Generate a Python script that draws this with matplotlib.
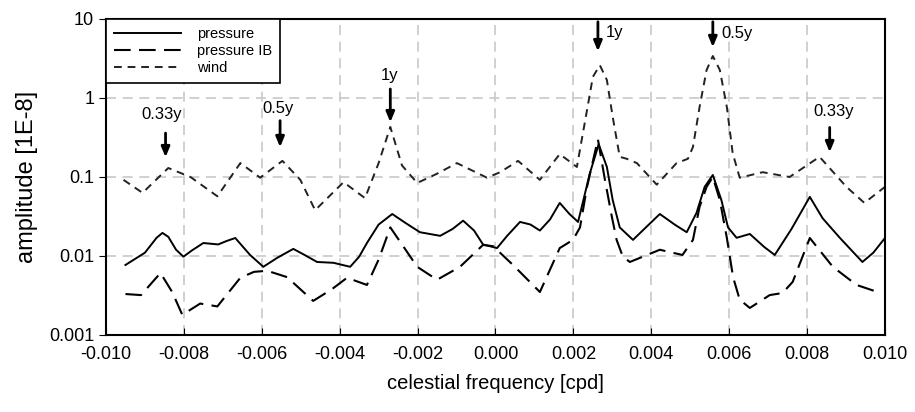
import numpy as np
import matplotlib.pyplot as plt
from matplotlib.ticker import FixedLocator, FixedFormatter, NullLocator

plt.rcParams['font.family'] = ['Liberation Sans', 'DejaVu Sans']

# pressure (solid)
p_freq = [-0.0095, -0.0090, -0.0087, -0.00855, -0.0084, -0.0082, -0.00801, -0.0078, -0.0075, -0.00712,
          -0.0069, -0.00668, -0.0063, -0.00596, -0.0056, -0.00519, -0.0049, -0.00458, -0.00416,
          -0.00373, -0.0035, -0.0033, -0.0030, -0.00265, -0.0023, -0.00194, -0.00142, -0.0011,
          -0.00083, -0.00055, -0.00032, 0.00004, 0.0003, 0.00063, 0.0009, 0.00114, 0.0014, 0.00165,
          0.0019, 0.00212, 0.00224, 0.00242, 0.00265, 0.00286, 0.00301, 0.00319, 0.00353, 0.0039,
          0.00422, 0.0046, 0.00491, 0.00516, 0.00537, 0.00558, 0.0058, 0.00597, 0.00619, 0.00653,
          0.0069, 0.00717, 0.0076, 0.00807, 0.0084, 0.00884, 0.00942, 0.0097, 0.0100]
p_amp = [0.0077, 0.011, 0.017, 0.0196, 0.0175, 0.012, 0.0098, 0.0117, 0.0146, 0.014,
         0.0155, 0.0169, 0.0103, 0.0073, 0.0095, 0.0123, 0.0103, 0.0084, 0.0082,
         0.0073, 0.0098, 0.0146, 0.025, 0.034, 0.026, 0.020, 0.018, 0.022,
         0.028, 0.021, 0.014, 0.0126, 0.018, 0.027, 0.025, 0.021, 0.029, 0.047,
         0.034, 0.027, 0.047, 0.11, 0.26, 0.134, 0.051, 0.023, 0.016, 0.024,
         0.034, 0.025, 0.020, 0.035, 0.075, 0.106, 0.051, 0.023, 0.017, 0.019,
         0.013, 0.0103, 0.022, 0.056, 0.03, 0.017, 0.0084, 0.011, 0.0169]

# pressure IB (long dash)
ib_freq = [-0.0095, -0.0091, -0.0086, -0.0083, -0.00804, -0.00758, -0.00714, -0.00655, -0.0062,
           -0.00586, -0.00535, -0.00468, -0.0042, -0.00381, -0.0033, -0.0030, -0.0027, -0.0024,
           -0.00201, -0.0015, -0.00091, -0.00032, -0.00006, 0.00045, 0.00114, 0.00165, 0.00199,
           0.00217, 0.00235, 0.00263, 0.00281, 0.00299, 0.00311, 0.00327, 0.00345, 0.00422, 0.0048,
           0.00507, 0.00524, 0.00542, 0.00558, 0.00576, 0.00594, 0.0061, 0.00627, 0.00653, 0.00704,
           0.00737, 0.00763, 0.00807, 0.00866, 0.00927, 0.00981]
ib_amp = [0.0033, 0.0032, 0.0061, 0.0035, 0.0018, 0.0025, 0.0023, 0.0053, 0.0063,
          0.0065, 0.0054, 0.0027, 0.0038, 0.0053, 0.0043, 0.009, 0.023, 0.014,
          0.0073, 0.005, 0.0073, 0.0138, 0.0133, 0.0077, 0.0035, 0.0126, 0.016,
          0.023, 0.075, 0.30, 0.092, 0.031, 0.016, 0.0098, 0.0084, 0.012, 0.0103,
          0.016, 0.042, 0.075, 0.10, 0.051, 0.017, 0.0054, 0.0028, 0.0022, 0.0032,
          0.0034, 0.0047, 0.0169, 0.0073, 0.0043, 0.0035]

# wind (short dash)
w_freq = [-0.00955, -0.00906, -0.0084, -0.00783, -0.00714, -0.00655, -0.00604, -0.00547, -0.00501,
          -0.00463, -0.0039, -0.00335, -0.0030, -0.0027, -0.0024, -0.00201, -0.0015, -0.00099,
          -0.00022, 0.00012, 0.00058, 0.00114, 0.00165, 0.00209, 0.00235, 0.0025, 0.00268, 0.00286,
          0.00301, 0.00319, 0.00337, 0.00363, 0.00414, 0.00465, 0.00494, 0.00507, 0.00524, 0.00542,
          0.00558, 0.00576, 0.00594, 0.00609, 0.00627, 0.00686, 0.00755, 0.00832, 0.00901, 0.00947,
          0.0100]
w_amp = [0.092, 0.063, 0.13, 0.10, 0.057, 0.15, 0.098, 0.16, 0.092,
         0.038, 0.086, 0.054, 0.15, 0.43, 0.14, 0.084, 0.11, 0.15,
         0.098, 0.115, 0.16, 0.092, 0.195, 0.134, 0.70, 1.85, 2.6, 1.69,
         0.575, 0.18, 0.17, 0.15, 0.08, 0.15, 0.17, 0.24, 0.77, 2.26,
         3.4, 2.26, 0.77, 0.2, 0.098, 0.115, 0.1, 0.18, 0.075, 0.047,
         0.075]

# annotation arrows and their labels
ann_labels = ['0.33y', '0.5y', '1y', '1y', '0.5y', '0.33y']
ann_x = [-0.00847, -0.00553, -0.0027, 0.00263, 0.00558, 0.00858]
ann_tail = [0.39, 0.56, 1.41, 10.0, 10.0, 0.46]
ann_tip = [0.164, 0.22, 0.455, 3.6, 4.06, 0.19]
ann_tx = [-0.00858, -0.00558, -0.00272, 0.00283, 0.00581, 0.00868]
ann_ty = [0.61, 0.73, 1.95, 6.8, 6.5, 0.67]
ann_ha = ['center', 'center', 'center', 'left', 'left', 'center']

xticks = [-0.010, -0.008, -0.006, -0.004, -0.002, 0.000, 0.002, 0.004, 0.006, 0.008, 0.010]
yticks = [0.001, 0.01, 0.1, 1, 10]
ytick_labels = ['0.001', '0.01', '0.1', '1', '10']

fig = plt.figure(figsize=(9.15, 4.12), dpi=100)
ax = fig.add_axes([0.1158, 0.1869, 0.8514, 0.767])

ax.plot(p_freq, p_amp, color='black', lw=1.4, label='pressure', solid_joinstyle='round')
ax.plot(ib_freq, ib_amp, color='black', lw=1.5, dashes=(8, 4), label='pressure IB',
        dash_joinstyle='round')
ax.plot(w_freq, w_amp, color='#222222', lw=1.4, dashes=(4, 3), label='wind',
        dash_joinstyle='round')

ax.set_yscale('log')
ax.set_xlim(-0.010, 0.010)
ax.set_ylim(0.001, 10)
ax.xaxis.set_major_locator(FixedLocator(xticks))
ax.set_xticklabels(['%.3f' % t for t in xticks])
ax.yaxis.set_major_locator(FixedLocator(yticks))
ax.yaxis.set_major_formatter(FixedFormatter(ytick_labels))
ax.yaxis.set_minor_locator(NullLocator())
ax.tick_params(axis='x', direction='in', length=5, labelsize=13, pad=8)
ax.tick_params(axis='y', direction='out', length=5, labelsize=13)

ax.grid(True, color='#c8c8c8', lw=1.2, dashes=(6, 4))
ax.set_axisbelow(True)
for s in ax.spines.values():
    s.set_linewidth(1.5)

ax.set_xlabel('celestial frequency [cpd]', fontsize=14.5, labelpad=8)
ax.set_ylabel('amplitude [1E-8]', fontsize=17, labelpad=8)

for lab, x, yt, yp, tx, ty, ha in zip(ann_labels, ann_x, ann_tail, ann_tip, ann_tx, ann_ty, ann_ha):
    ax.annotate('', xy=(x, yp), xytext=(x, yt),
                arrowprops=dict(arrowstyle='-|>,head_length=0.6,head_width=0.25', color='black', lw=2))
    ax.text(tx, ty, lab, ha=ha, va='center', fontsize=12)

leg = ax.legend(loc='upper left', borderaxespad=0, fontsize=10.5, handlelength=4.6,
                handletextpad=1.1, fancybox=False, framealpha=1, edgecolor='black',
                labelspacing=0.2, borderpad=0.55)
leg.get_frame().set_linewidth(1.2)

fig.savefig('out.png', dpi=100)
